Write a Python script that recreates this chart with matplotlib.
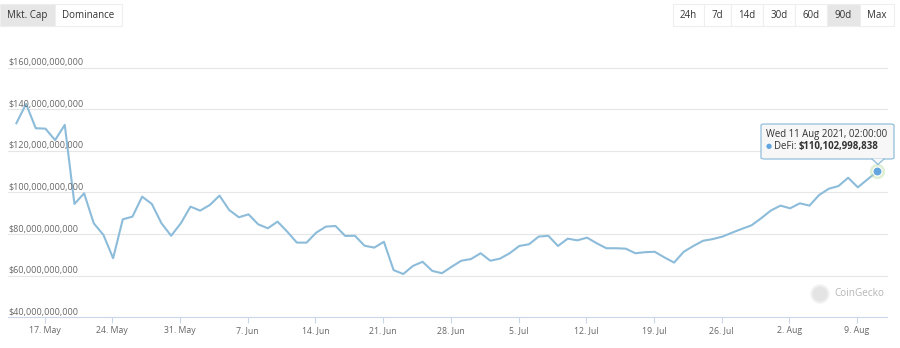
import numpy as np
import pandas as pd
import matplotlib
matplotlib.use("Agg")
import matplotlib.pyplot as plt
import matplotlib.dates as mdates
import matplotlib.transforms as mtransforms
from matplotlib.patches import Rectangle, FancyBboxPatch, Polygon, Circle

plt.rcParams["font.family"] = ["Open Sans", "DejaVu Sans"]

# ── data (DeFi market cap, USD billions, daily) ───────────────────────────────
START = "2021-05-14 02:00"
defi_bn = [
    133.3, 142.6, 130.9, 130.7, 125.2, 132.5, 94.5, 99.6, 85.2, 79.6,
    68.4, 87.1, 88.4, 98.0, 94.5, 85.2, 79.2, 85.2, 93.2, 91.3,
    94.0, 98.5, 91.6, 88.1, 89.5, 84.7, 82.8, 86.0, 81.2, 75.9,
    75.9, 80.7, 83.6, 83.9, 79.1, 79.2, 74.4, 73.5, 76.3, 62.7,
    60.8, 64.7, 66.7, 62.3, 61.2, 64.3, 67.2, 68.0, 70.8, 67.2,
    68.2, 70.8, 74.3, 75.1, 78.8, 79.2, 74.3, 77.8, 77.0, 78.3,
    75.6, 73.2, 73.2, 73.0, 70.8, 71.3, 71.5, 68.8, 66.3, 71.5,
    74.3, 76.8, 77.6, 78.8, 80.7, 82.5, 84.2, 87.6, 91.3, 93.7,
    92.4, 94.8, 93.7, 98.8, 101.8, 103.1, 107.1, 102.5, 106.3, 110.1,
]
y_ticks = [40e9, 60e9, 80e9, 100e9, 120e9, 140e9, 160e9]
left_buttons = ["Mkt. Cap", "Dominance"]
range_buttons = ["24h", "7d", "14d", "30d", "60d", "90d", "Max"]
tooltip_date = "Wed 11 Aug 2021, 02:00:00"
tooltip_value = "$110,102,998,838"

dates = pd.date_range(START, periods=len(defi_bn), freq="D")
values = np.array(defi_bn) * 1e9

LINE = "#8cbcda"
GRID = "#e6e6e6"
AXIS = "#ccd6eb"
LABEL = "#666666"

W, H = 900, 348
fig = plt.figure(figsize=(W / 100, H / 100), dpi=100)


def fx(px):
    return px / W


def fy(py):
    return 1 - py / H


ax = fig.add_axes([fx(8), fy(317.3), fx(887 - 8), (317.3 - 67.7) / H])
ax.plot(dates, values, color=LINE, linewidth=1.5, solid_joinstyle="round")
ax.plot(dates[-1:], values[-1:], "o", ms=11, color="#b9dca0", alpha=0.45, mec="none")
ax.plot(dates[-1:], values[-1:], "o", ms=6.5, color="#62a5df", mec="white", mew=0.8)

x0 = pd.Timestamp("2021-05-17") - pd.Timedelta(days=3.785)
x1 = pd.Timestamp("2021-08-09") + pd.Timedelta(days=3.10)
ax.set_xlim(x0, x1)
ax.set_ylim(40e9, 160e9)

for s in ax.spines.values():
    s.set_visible(False)
ax.set_yticks([])
ax.set_facecolor("none")

blend = mtransforms.blended_transform_factory(ax.transAxes, ax.transData)
for v in y_ticks:
    ax.axhline(v, color=AXIS if v == 40e9 else GRID, linewidth=0.8, zorder=0, clip_on=False)
    ax.annotate(f"${v:,.0f}", xy=(0, v), xycoords=blend, xytext=(0, 1.8),
                textcoords="offset points", ha="left", va="baseline",
                fontsize=6.5, color=LABEL)

ax.xaxis.set_major_locator(mdates.WeekdayLocator(byweekday=mdates.MO))
ax.xaxis.set_major_formatter(plt.FuncFormatter(
    lambda x, pos: f"{mdates.num2date(x).day}. {mdates.num2date(x).strftime('%b')}"))
ax.tick_params(axis="x", direction="out", length=4, width=0.8, color=AXIS,
               labelsize=6.3, labelcolor=LABEL, pad=2)

# ── buttons ───────────────────────────────────────────────────────────────────
left_edges = [0, 55, 122]
for i, name in enumerate(left_buttons):
    a, b = left_edges[i], left_edges[i + 1]
    fig.patches.append(Rectangle((fx(a), fy(26)), fx(b - a), (26 - 4) / H,
                                 transform=fig.transFigure, facecolor="#e6e6e6" if i == 0 else "white",
                                 edgecolor="#eeeeee", linewidth=0.8))
    fig.text(fx((a + b) / 2), fy(15.5), name, ha="center", va="center", fontsize=7, color="#333333")

range_edges = [673, 704, 731, 763, 795, 827, 860, 894]
for i, name in enumerate(range_buttons):
    a, b = range_edges[i], range_edges[i + 1]
    fig.patches.append(Rectangle((fx(a), fy(26)), fx(b - a), (26 - 4) / H,
                                 transform=fig.transFigure, facecolor="#e6e6e6" if name == "90d" else "white",
                                 edgecolor="#eeeeee", linewidth=0.8))
    fig.text(fx((a + b) / 2), fy(15.5), name, ha="center", va="center", fontsize=7, color="#333333")

# ── watermark ─────────────────────────────────────────────────────────────────
fig.patches.append(Circle((820, H - 294), 8.5, transform=mtransforms.IdentityTransform(),
                          facecolor="#e4e4e4", edgecolor="#f0f0f0", linewidth=1.5))
fig.text(fx(834), fy(294), "CoinGecko", ha="left", va="center", fontsize=7.2, color="#b5b5b5")

# ── tooltip ───────────────────────────────────────────────────────────────────
fig.patches.append(FancyBboxPatch((fx(761), fy(159)), fx(894 - 761), (159 - 124) / H,
                                  boxstyle="round,pad=0,rounding_size=0.004",
                                  transform=fig.transFigure, facecolor="#f7f7f7",
                                  edgecolor="#8cbcda", linewidth=0.9, alpha=0.95))
fig.patches.append(Polygon([(fx(872), fy(158.6)), (fx(884), fy(158.6)), (fx(878), fy(164.5))],
                           closed=True, transform=fig.transFigure, facecolor="#f7f7f7",
                           edgecolor="none"))
fig.lines.append(plt.Line2D([fx(872), fx(878), fx(884)], [fy(159), fy(164.5), fy(159)],
                            transform=fig.transFigure, color="#8cbcda", linewidth=0.9))
fig.text(fx(766), fy(134.5), tooltip_date, ha="left", va="center", fontsize=6.9, color="#333333")
fig.text(fx(768.5), fy(146.5), "\u25cf", ha="center", va="center", fontsize=5, color="#62a5df")
t = fig.text(fx(774), fy(146.5), "DeFi: ", ha="left", va="center", fontsize=6.9, color="#333333")
fig.add_artist(plt.Annotation(tooltip_value, xy=(1, 0.5), xycoords=t, ha="left", va="center",
                              fontsize=6.9, fontweight="bold", color="#333333"))

fig.savefig("out.png", dpi=100)
